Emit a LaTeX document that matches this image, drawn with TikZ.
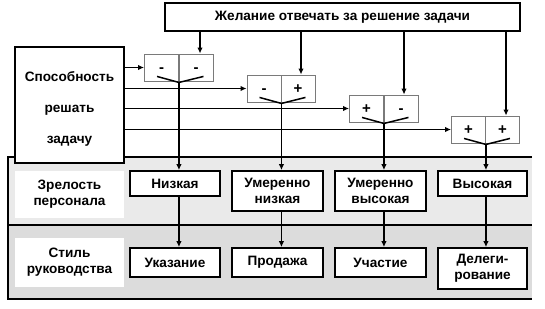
\documentclass[tikz,border=0pt]{standalone}
\usepackage{fontspec}
\setmainfont{Liberation Sans}
\usetikzlibrary{arrows.meta}
\definecolor{bandA}{HTML}{EAEAEA}
\definecolor{bandB}{HTML}{DCDCDC}
\definecolor{signgray}{HTML}{7A7A7A}
\begin{document}
\begin{tikzpicture}[x=1pt,y=-1pt,
  txt/.style={font=\fontsize{13.6}{16}\selectfont\bfseries, align=center, inner sep=0pt},
  bbox/.style={txt, draw=black, line width=1.7pt, fill=white},
  lbl/.style={txt, fill=white},
  half/.style={draw=signgray, line width=0.9pt, fill=white, minimum width=34pt, minimum height=27pt, inner sep=0pt},
  sign/.style={txt, font=\fontsize{15}{16}\selectfont\bfseries},
  arr/.style={line width=1.5pt, -{Latex[length=6pt,width=5.5pt]}},
  ln/.style={line width=1.5pt},
  vee/.style={line width=1.5pt}
]
\useasboundingbox (0,0) rectangle (545,308);
% gray band
\fill[bandA] (8,157) rectangle (532,225);
\fill[bandB] (8,225) rectangle (532,299);
\draw[ln] (532,157) -- (8,157) -- (8,299) -- (532,299);
\draw[ln] (8,225) -- (532,225);

% top box
\node[bbox, minimum width=355pt, minimum height=28pt] (top) at (342.5,17) {Желание отвечать за решение задачи};
% ability box
\node[bbox, minimum width=109pt, minimum height=116pt] (abil) at (69.5,105) {};
\node[txt, font=\fontsize{13.6}{31}\selectfont\bfseries] (abiltxt) at (69.5,108.5) {Способность\\решать\\задачу};

% sign boxes
\node[half] (s1l) at (161.5,67.5) {};
\node[half] (s1r) at (196,67.5) {};
\node[half] (s2l) at (264,88.5) {};
\node[half] (s2r) at (298,88.5) {};
\node[half] (s3l) at (366.5,108.5) {};
\node[half] (s3r) at (401,108.5) {};
\node[half] (s4l) at (468.5,129.5) {};
\node[half] (s4r) at (502.5,129.5) {};
\node[sign] (g1l) at ([yshift=-3]s1l.center) {-};
\node[sign] (g1r) at ([yshift=-3]s1r.center) {-};
\node[sign] (g2l) at ([yshift=-3]s2l.center) {-};
\node[sign] (g2r) at ([yshift=-1]s2r.center) {+};
\node[sign] (g3l) at ([yshift=-1]s3l.center) {+};
\node[sign] (g3r) at ([yshift=-3]s3r.center) {-};
\node[sign] (g4l) at ([yshift=-1]s4l.center) {+};
\node[sign] (g4r) at ([yshift=-1]s4r.center) {+};

% labels
\node[lbl, minimum width=109pt, minimum height=47pt] (zrel) at (69.5,194.5) {Зрелость\\персонала};
\node[lbl, minimum width=109pt, minimum height=49pt] (stil) at (69.5,262.5) {Стиль\\руководства};

% maturity boxes
\node[bbox, minimum width=90pt, minimum height=25pt] (m1) at (175,183.5) {Низкая};
\node[bbox, minimum width=91pt, minimum height=40pt] (m2) at (277.5,191) {Умеренно\\низкая};
\node[bbox, minimum width=91pt, minimum height=40pt] (m3) at (380.5,191) {Умеренно\\высокая};
\node[bbox, minimum width=89pt, minimum height=25pt] (m4) at (482.5,183.5) {Высокая};

% style boxes
\node[bbox, minimum width=90pt, minimum height=29pt] (st1) at (175,262.5) {Указание};
\node[bbox, minimum width=91pt, minimum height=29pt] (st2) at (277.5,262.5) {Продажа};
\node[bbox, minimum width=91pt, minimum height=29pt] (st3) at (380.5,262.5) {Участие};
\node[bbox, minimum width=89pt, minimum height=41pt] (st4) at (482.5,268.5) {Делеги-\\рование};

% V apex coordinates
\coordinate (v1) at ([yshift=-1]s1l.south east);
\coordinate (v2) at ([yshift=-1]s2l.south east);
\coordinate (v3) at ([yshift=-1]s3l.south east);
\coordinate (v4) at ([yshift=-1]s4l.south east);

% V shapes
\draw[vee] ([xshift=13,yshift=5]s1l.south west) -- (v1) -- ([xshift=-10,yshift=5]s1r.south east);
\draw[vee] ([xshift=13,yshift=5]s2l.south west) -- (v2) -- ([xshift=-10,yshift=5]s2r.south east);
\draw[vee] ([xshift=13,yshift=5]s3l.south west) -- (v3) -- ([xshift=-10,yshift=5]s3r.south east);
\draw[vee] ([xshift=13,yshift=5]s4l.south west) -- (v4) -- ([xshift=-10,yshift=5]s4r.south east);

% ability arrows
\draw[arr] (abil.east |- s1l.west) -- (s1l.west);
\draw[arr] (abil.east |- s2l.west) -- (s2l.west);
\draw[arr] (abil.east |- s3l.west) -- (s3l.west);
\draw[arr] (abil.east |- s4l.west) -- (s4l.west);

% desire arrows
\draw[arr] ([xshift=4]s1r.north |- top.south) -- ([xshift=4]s1r.north);
\draw[arr] ([xshift=3]s2r.north |- top.south) -- ([xshift=3]s2r.north);
\draw[arr] ([xshift=3]s3r.north |- top.south) -- ([xshift=3]s3r.north);
\draw[arr] ([xshift=3.5]s4r.north |- top.south) -- ([xshift=3.5]s4r.north);

% down arrows
\draw[arr] (v1) -- (v1 |- m1.north);
\draw[arr] (v2) -- (v2 |- m2.north);
\draw[arr] (v3) -- (v3 |- m3.north);
\draw[arr] (v4) -- (v4 |- m4.north);
\draw[arr] (v1 |- m1.south) -- (v1 |- st1.north);
\draw[arr] (v2 |- m2.south) -- (v2 |- st2.north);
\draw[arr] (v3 |- m3.south) -- (v3 |- st3.north);
\draw[arr] (v4 |- m4.south) -- (v4 |- st4.north);
\end{tikzpicture}
\end{document}
